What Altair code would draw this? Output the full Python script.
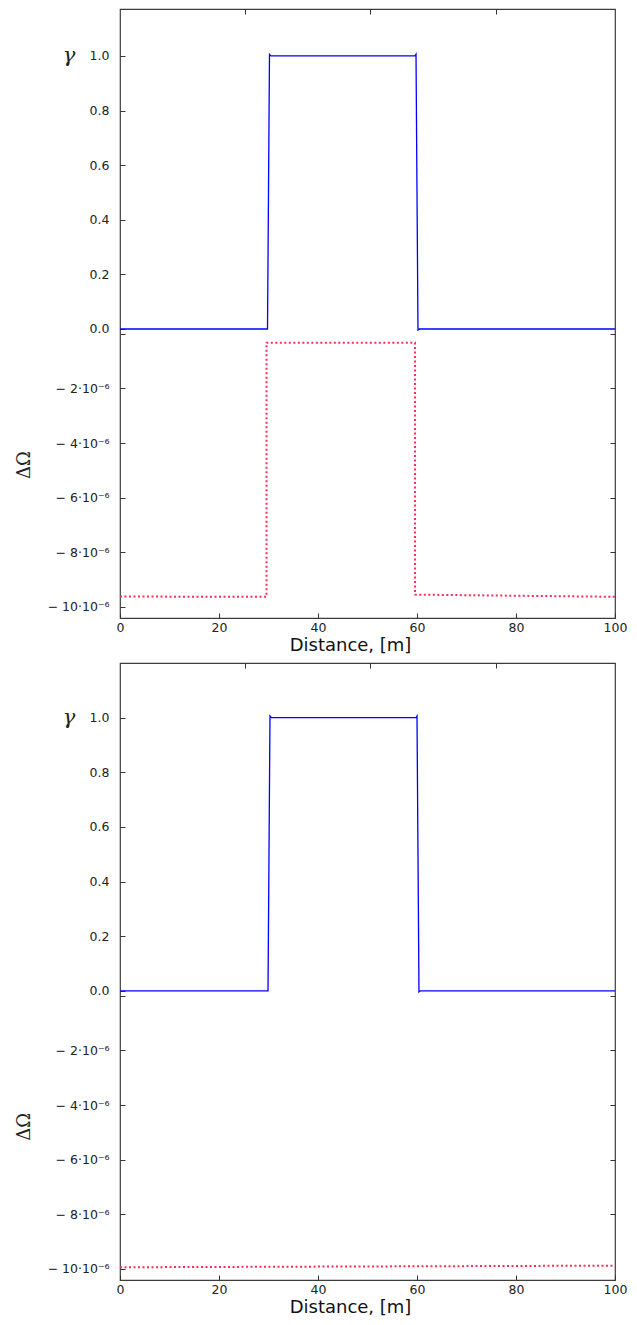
import altair as alt
import pandas as pd

# ---------------- data ----------------
# top panel
top_gamma_x = [0, 29.8, 30.0, 30.2, 30.5, 59.6, 59.8, 60.0, 60.2, 60.5, 100]
top_gamma_y = [0.0, 0.0, 0.5, 1.006, 1.0, 1.0, 1.006, 0.5, -0.004, 0.0, 0.0]
top_omega_x = [0, 29.6, 29.6, 59.6, 59.6, 100]
top_omega_y = [-9.62e-6, -9.63e-6, -0.32e-6, -0.32e-6, -9.55e-6, -9.63e-6]

# bottom panel
bot_gamma_x = [0, 29.9, 30.1, 30.3, 30.6, 59.8, 60.0, 60.2, 60.4, 60.7, 100]
bot_gamma_y = [0.0, 0.0, 0.5, 1.006, 1.0, 1.0, 1.006, 0.5, -0.004, 0.0, 0.0]
bot_omega_x = [0, 100]
bot_omega_y = [-9.94e-6, -9.88e-6]

# axis ticks
gamma_ticks = [0.0, 0.2, 0.4, 0.6, 0.8, 1.0]
omega_ticks = [0.0, -2e-6, -4e-6, -6e-6, -8e-6, -10e-6]
x_ticks = [0, 20, 40, 60, 80, 100]
x_top_ticks = [25.2, 50.6, 75.9]
x_title = "Distance, [m]"
gamma_label = "γ"
omega_label = "ΔΩ"
omega_label_pos = -4.8e-6

# the shared vertical axis: gamma as is, omega scaled by 1e5 and shifted
OMEGA_SCALE = 1e5
OMEGA_SHIFT = 0.018
Y_MIN = -1.0586
Y_MAX_TOP = 1.172   # top panel is slightly cut at the page top
Y_MAX_BOT = 1.2


def om(v):
    return round(v * OMEGA_SCALE - OMEGA_SHIFT, 6)


omega_u = [om(v) for v in omega_ticks]
left_label_vals = gamma_ticks + omega_u[1:]
left_tick_vals = gamma_ticks + omega_u
right_tick_vals = omega_u[:5]

label_expr = (
    "datum.value > -0.01 ? format(datum.value, '.1f') : "
    "'\u2212 ' + format(round((-datum.value - %g) * 10), 'd') + '\u00b710\u207b\u2076\u00a0'"
    % OMEGA_SHIFT
)

W = 495
xscale = alt.Scale(domain=[0, 100], nice=False, zero=False)

TICK = dict(tickSize=5, offset=-5, labels=False, domain=False, title=None,
            tickColor="#333333", tickWidth=1)


def panel(gx, gy, ox, oy, ymax, height):
    yscale = alt.Scale(domain=[Y_MIN, ymax], nice=False, zero=False)
    gdf = pd.DataFrame({"x": gx, "g": gy, "i": list(range(len(gx)))})
    odf = pd.DataFrame({"x": ox, "w": oy, "i": list(range(len(ox)))})

    gamma = alt.Chart(gdf).mark_line(color="#0000ff", strokeWidth=1.3).encode(
        x=alt.X("x:Q", scale=xscale,
                axis=alt.Axis(orient="bottom", values=x_ticks, format="d",
                              title=x_title, tickSize=0, labelPadding=3,
                              labelFlush=False, labelOverlap=False,
                              domain=False, titlePadding=3, titleX=230)),
        y=alt.Y("g:Q", scale=yscale,
                axis=alt.Axis(orient="left", values=left_label_vals,
                              labelExpr=label_expr, tickSize=0,
                              labelFlush=False, labelOverlap=False,
                              labelPadding=11, domain=False, title=None)),
        order="i:Q",
    )

    omega = alt.Chart(odf).transform_calculate(
        u=f"datum.w * {OMEGA_SCALE} - {OMEGA_SHIFT}"
    ).mark_line(color="#ff2d55", strokeWidth=2, strokeDash=[2, 2.5]).encode(
        x=alt.X("x:Q", scale=xscale,
                axis=alt.Axis(orient="top", values=x_top_ticks, **TICK)),
        y=alt.Y("u:Q", scale=yscale,
                axis=alt.Axis(orient="left", values=left_tick_vals, **TICK)),
        order="i:Q",
    )

    ghost = alt.Chart(gdf).mark_line(strokeOpacity=0).encode(
        x=alt.X("x:Q", scale=xscale,
                axis=alt.Axis(orient="bottom", values=x_ticks, **TICK)),
        y=alt.Y("g:Q", scale=yscale,
                axis=alt.Axis(orient="right", values=right_tick_vals, **TICK)),
        order="i:Q",
    )

    gl = alt.Chart(pd.DataFrame({"t": [gamma_label], "v": [1.0]})).mark_text(
        font="DejaVu Serif", fontStyle="italic", fontSize=21, color="#222222",
        align="center", baseline="middle"
    ).encode(x=alt.value(-51), y=alt.Y("v:Q", scale=yscale, axis=None),
             text="t:N")

    ol = alt.Chart(pd.DataFrame({"t": [omega_label], "w": [omega_label_pos]})).transform_calculate(
        u=f"datum.w * {OMEGA_SCALE} - {OMEGA_SHIFT}"
    ).mark_text(
        font="DejaVu Serif", fontSize=18, color="#222222", angle=270,
        align="center", baseline="middle"
    ).encode(x=alt.value(-95), y=alt.Y("u:Q", scale=yscale, axis=None),
             text="t:N")

    return alt.layer(gamma, omega, ghost, gl, ol).resolve_axis(
        x="independent", y="independent"
    ).properties(width=W, height=height)


chart = alt.vconcat(
    panel(top_gamma_x, top_gamma_y, top_omega_x, top_omega_y, Y_MAX_TOP, 609),
    panel(bot_gamma_x, bot_gamma_y, bot_omega_x, bot_omega_y, Y_MAX_BOT, 617),
    spacing=5,
).properties(
    padding={"left": 7, "top": -1, "right": 0, "bottom": 0}
).configure_view(
    stroke="#3c3c3c", strokeWidth=1.2
).configure_axis(
    grid=False, labelFont="DejaVu Sans", labelFontSize=12.5, labelColor="#222222",
    titleFont="DejaVu Sans", titleFontSize=18, titleFontWeight="normal",
    titleColor="#111111"
)

chart.save("out.html", embed_options={"renderer": "svg", "actions": False})
